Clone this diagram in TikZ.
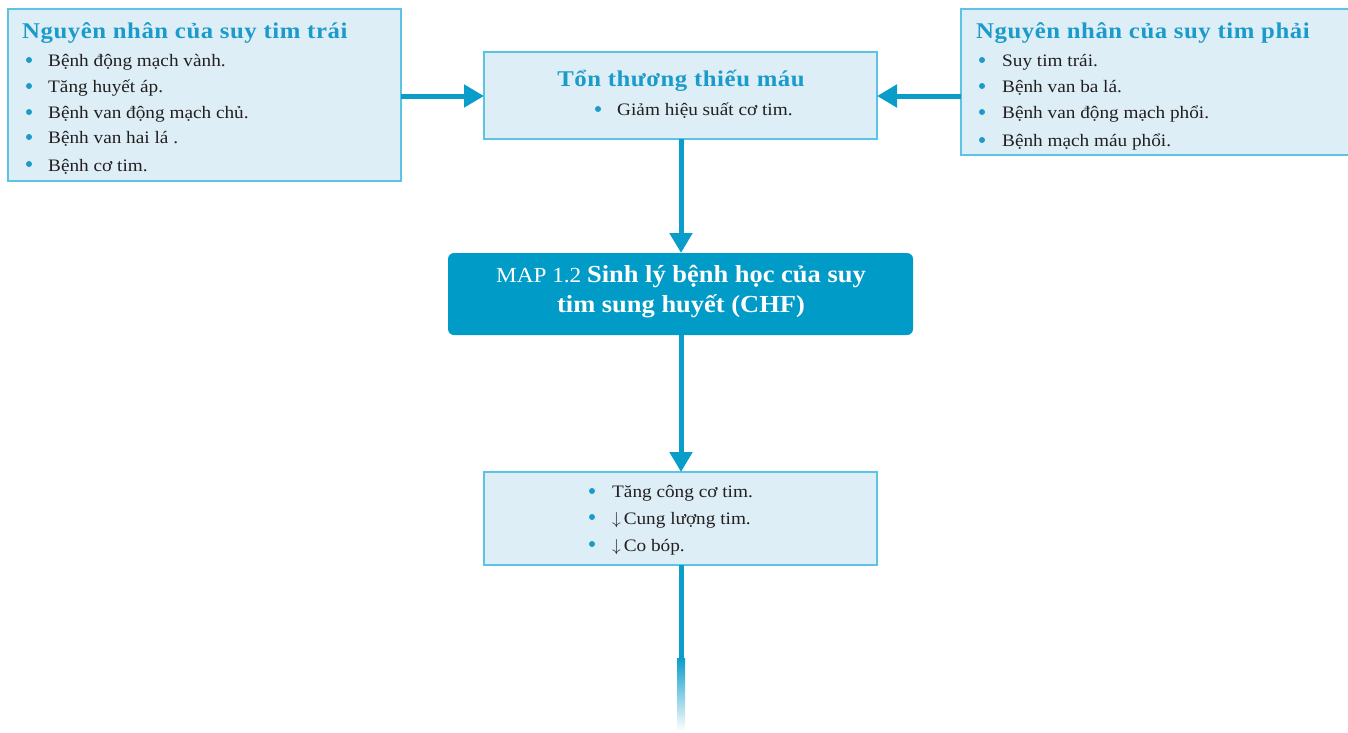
\documentclass[tikz,border=0pt]{standalone}
\usepackage{fontspec}
\setmainfont{Liberation Serif}[FakeStretch=1.1]
\newfontfamily\headfont{Liberation Serif}[FakeStretch=1.1, LetterSpace=2.5]
\newfontfamily\mapfont{Liberation Serif}[FakeStretch=1.08]
\usetikzlibrary{arrows.meta}
\definecolor{flowline}{HTML}{0A9DC9}
\definecolor{boxfill}{HTML}{DDEEF6}
\definecolor{boxedge}{HTML}{5BC3E3}
\definecolor{mapfill}{HTML}{009BC7}
\definecolor{titlecol}{HTML}{1B9BCA}
\definecolor{bodytext}{HTML}{231F20}
\begin{document}
\begin{tikzpicture}[x=1pt,y=-1pt,
  panel/.style={draw=boxedge, line width=1.6pt, fill=boxfill, inner sep=0pt, outer sep=0pt, anchor=north west},
  mapbox/.style={fill=mapfill, rounded corners=6pt, inner sep=0pt, outer sep=0pt, anchor=north west},
  heading/.style={text=titlecol, font=\headfont\fontsize{22.5}{26}\selectfont\bfseries, inner sep=0pt, anchor=base west},
  item/.style={text=bodytext, font=\fontsize{17.5}{20}\selectfont, inner sep=0pt, anchor=base west},
  dot/.style={fill=titlecol},
  link/.style={draw=flowline, line width=5pt, -{Triangle[length=20pt,width=22pt]}},
]
\useasboundingbox (0,0) rectangle (1348,732);

% boxes
\node[panel, minimum width=393pt, minimum height=172pt] (L) at (8,9) {};
\node[panel, minimum width=393pt, minimum height=87pt] (M) at (484,52) {};
\node[panel, minimum width=388pt, minimum height=146pt] (R) at (961,9) {};
\node[mapbox, minimum width=465pt, minimum height=82pt] (MAP) at (448,253) {};
\node[panel, minimum width=393pt, minimum height=93pt] (B) at (484,472) {};

% left causes
\node[heading] (Lt) at (22,38) {Nguyên nhân của suy tim trái};
\foreach \t/\yb/\yd [count=\i] in {Bệnh động mạch vành./66/60, Tăng huyết áp./92/86, Bệnh van động mạch chủ./118/112, Bệnh van hai lá ./143/137, Bệnh cơ tim./171/164}{
  \fill[dot] (29,\yd) circle (3pt);
  \node[item] (L\i) at (48,\yb) {\t};
}

% right causes
\node[heading] (Rt) at (976,38) {Nguyên nhân của suy tim phải};
\foreach \t/\yb/\yd [count=\i] in {Suy tim trái./66/60, Bệnh van ba lá./92/86, Bệnh van động mạch phổi./118/112, Bệnh mạch máu phổi./146/140}{
  \fill[dot] (982,\yd) circle (3pt);
  \node[item] (R\i) at (1002,\yb) {\t};
}

% ischemic injury
\node[heading, anchor=base] (Mt) at (681,86) {Tổn thương thiếu máu};
\fill[dot] (598,109) circle (3pt);
\node[item] (M1) at (617,115) {Giảm hiệu suất cơ tim.};

% title block
\node[text=white, inner sep=0pt, anchor=base] (MAPt) at (681,282)
  {\mapfont{\fontsize{21.5}{24}\selectfont MAP 1.2\ }{\fontsize{24.5}{30}\selectfont\bfseries Sinh lý bệnh học của suy}};
\node[text=white, inner sep=0pt, anchor=base, font=\mapfont\fontsize{24.5}{30}\selectfont\bfseries] (MAPt2) at (681,312) {tim sung huyết (CHF)};

% consequences
\foreach \t/\yb/\yd [count=\i] in {Tăng công cơ tim./497/491, $\downarrow$\,Cung lượng tim./524/517, $\downarrow$\,Co bóp./551/544}{
  \fill[dot] (592,\yd) circle (3pt);
  \node[item] (B\i) at (612,\yb) {\t};
}

% connectors
\draw[link] (L.east |- 0,96) -- (M.west |- 0,96);
\draw[link] (R.west |- 0,96) -- (M.east |- 0,96);
\draw[link] (M.south -| 681,0) -- (MAP.north -| 681,0);
\draw[link] (MAP.south -| 681,0) -- (B.north -| 681,0);
\coordinate (fadeA) at (681,658);
\draw[flowline, line width=5pt] (B.south -| 681,0) -- (fadeA);
\shade[top color=flowline, bottom color=white] (677,658) rectangle (685,731);
\end{tikzpicture}
\end{document}
